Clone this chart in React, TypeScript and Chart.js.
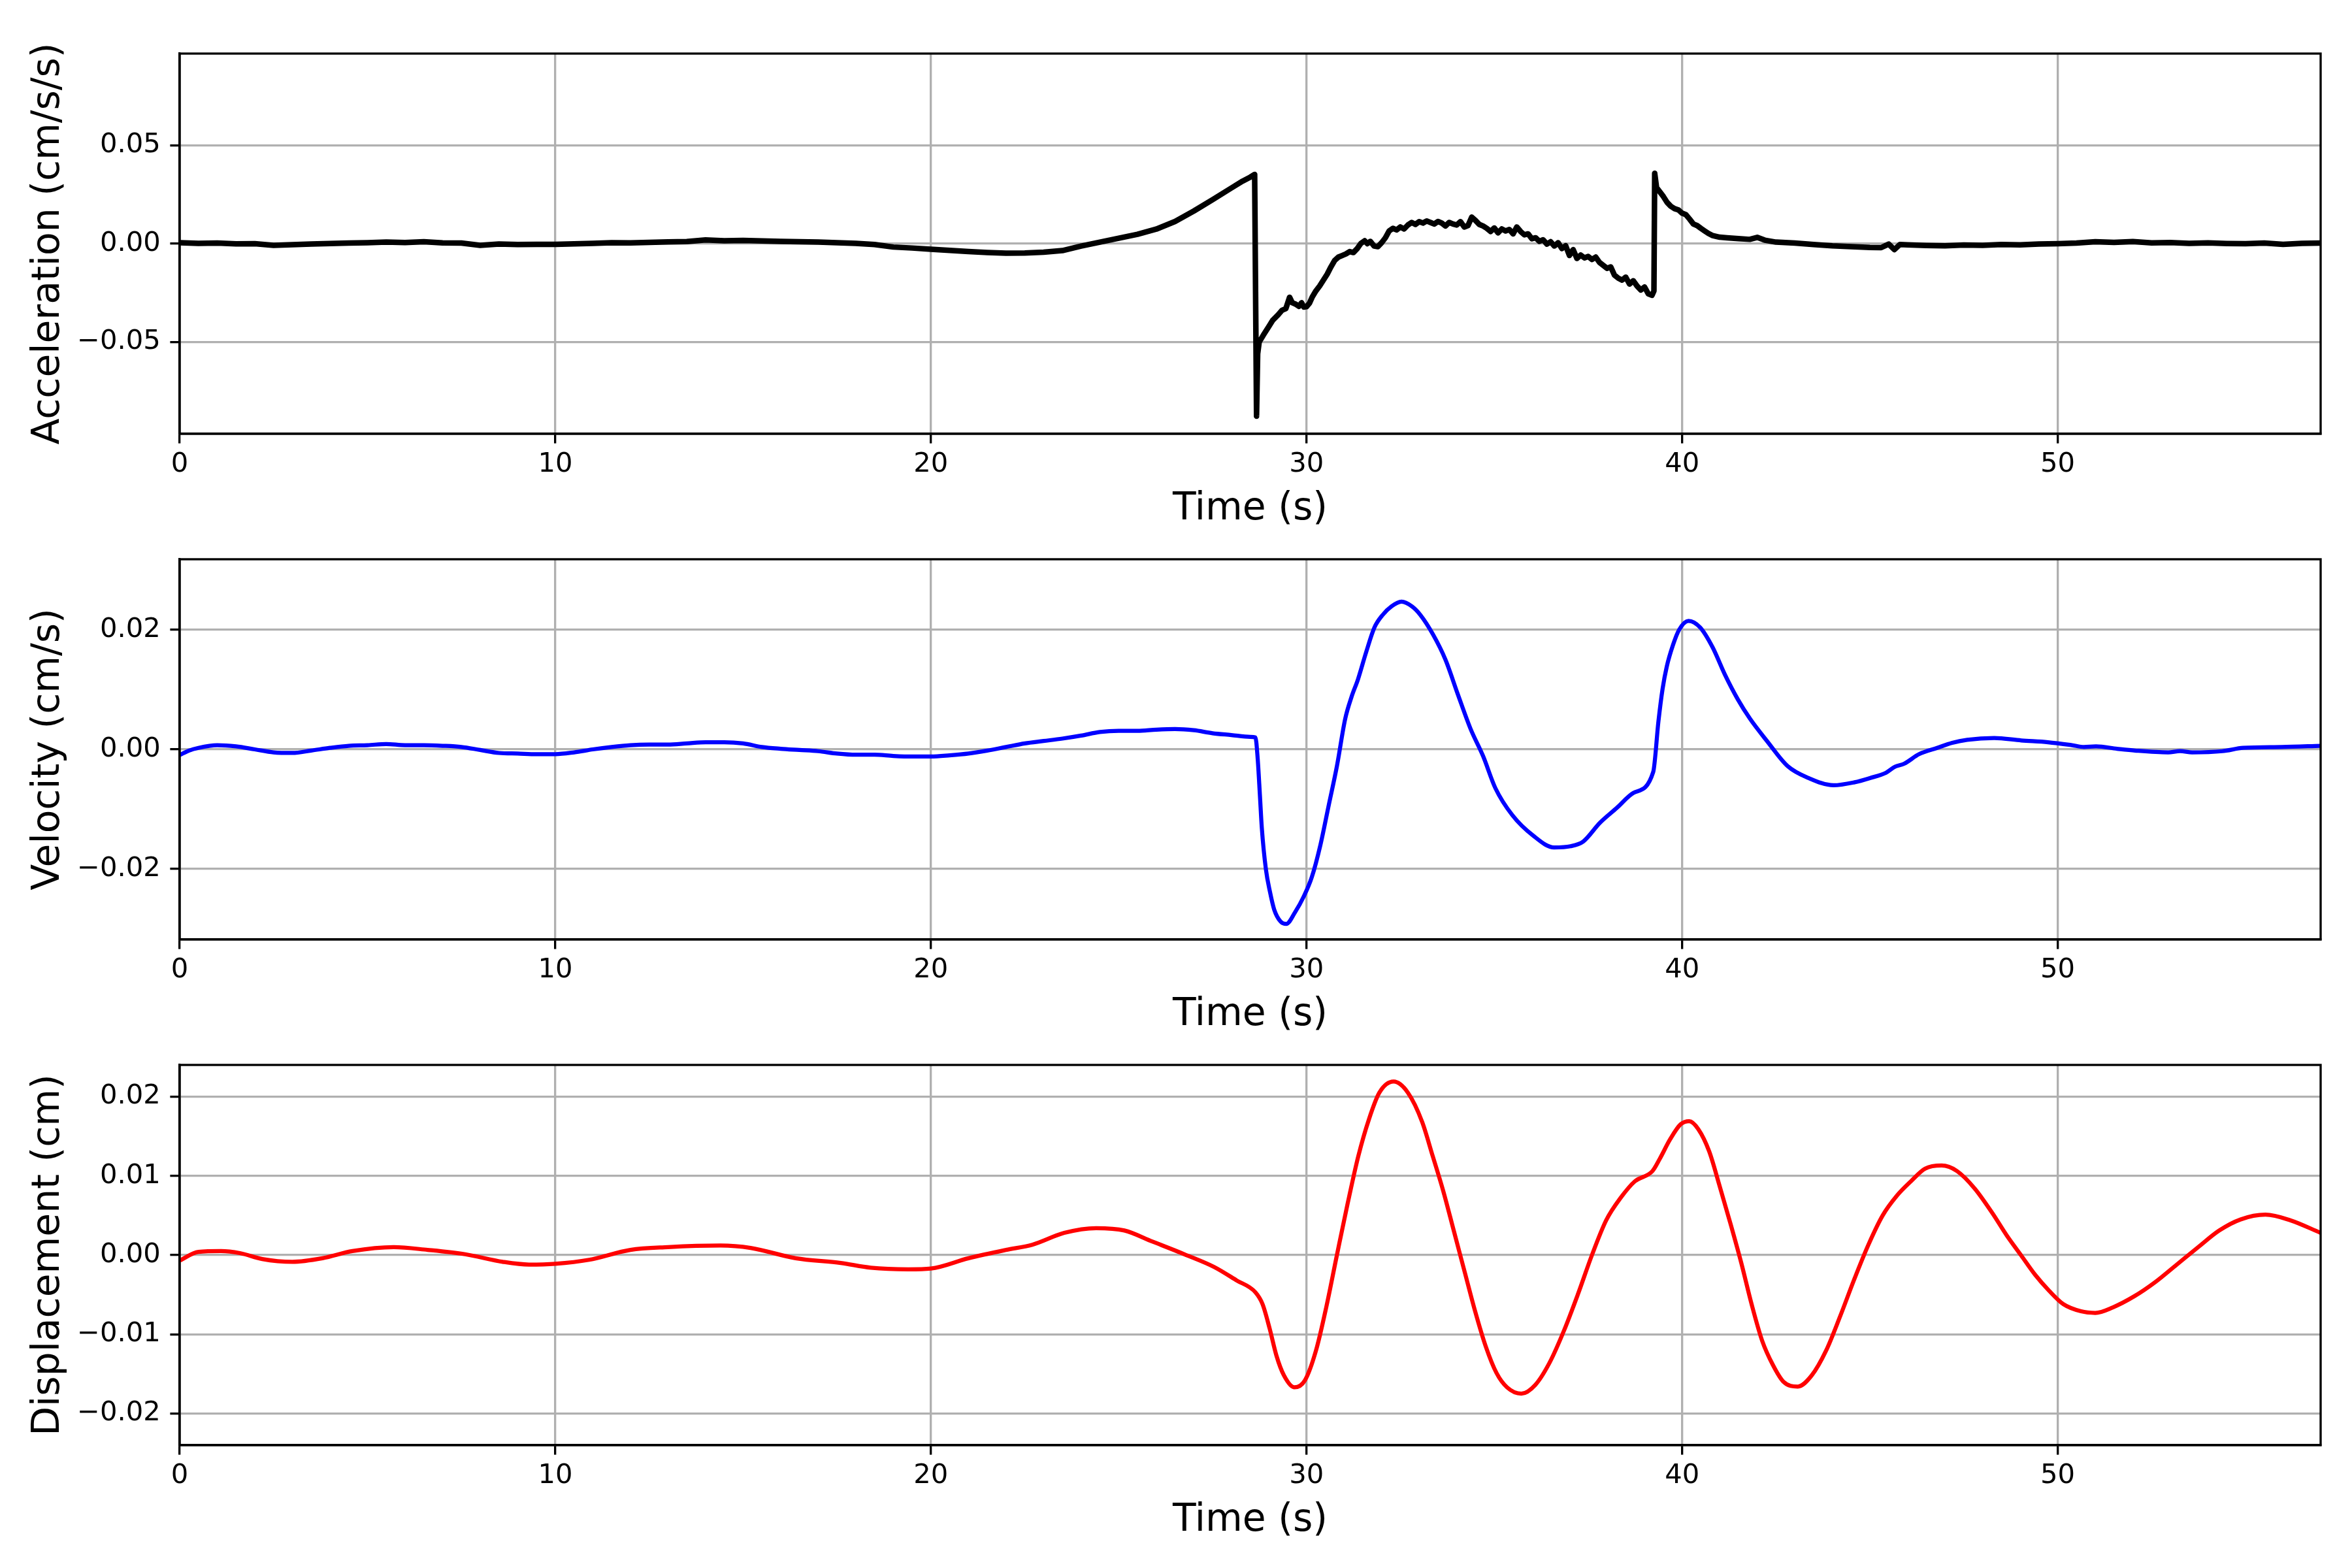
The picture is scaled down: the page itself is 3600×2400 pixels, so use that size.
import React, { useEffect, useRef } from "react";
import { Chart, registerables } from "chart.js";

Chart.register(...registerables);

const FONT = "'DejaVu Sans', sans-serif";
const GRID = "#b0b0b0";
const LW = 3.33;

// shared time axis
const timeTicks = [0, 10, 20, 30, 40, 50];
const timeMax = 57.0;

// acceleration record (cm/s/s)
const accTime = [
  0, 0.5, 1, 1.5, 2, 2.5, 3, 3.5, 4, 4.5,
  5, 5.5, 6, 6.5, 7, 7.5, 8, 8.5, 9, 9.5,
  10, 10.5, 11, 11.5, 12, 12.5, 13, 13.5, 14, 14.5,
  15, 15.5, 16, 16.5, 17, 17.5, 18, 18.5, 19, 19.5,
  20, 20.5, 21, 21.5, 22, 22.5, 23, 23.5, 24, 24.5,
  25, 25.5, 26, 26.5, 27, 27.5, 28, 28.3, 28.5, 28.62,
  28.67, 28.7, 28.74, 28.85, 29.0, 29.1, 29.25, 29.35, 29.45, 29.55,
  29.62, 29.7, 29.8, 29.87, 29.93, 30.0, 30.08, 30.15, 30.25, 30.35,
  30.45, 30.55, 30.65, 30.75, 30.85, 30.95, 31.05, 31.15, 31.25, 31.35,
  31.45, 31.55, 31.62, 31.7, 31.8, 31.9, 32.0, 32.1, 32.2, 32.3,
  32.4, 32.5, 32.6, 32.7, 32.8, 32.9, 33.0, 33.1, 33.2, 33.3,
  33.4, 33.5, 33.6, 33.7, 33.8, 33.9, 34.0, 34.1, 34.2, 34.3,
  34.4, 34.5, 34.6, 34.7, 34.8, 34.9, 35.0, 35.1, 35.2, 35.3,
  35.4, 35.5, 35.6, 35.7, 35.8, 35.9, 36.0, 36.1, 36.2, 36.3,
  36.4, 36.5, 36.6, 36.7, 36.8, 36.9, 37.0, 37.1, 37.2, 37.3,
  37.4, 37.5, 37.6, 37.7, 37.8, 37.9, 38.0, 38.1, 38.2, 38.3,
  38.4, 38.5, 38.6, 38.7, 38.8, 38.9, 39.0, 39.1, 39.2,
  39.25, 39.27, 39.32, 39.4, 39.5, 39.6, 39.7, 39.8, 39.9, 40.0,
  40.1, 40.2, 40.3, 40.4, 40.5, 40.6, 40.7, 40.8, 41.0, 41.2,
  41.5, 41.8, 42.0, 42.2, 42.5, 43.0, 43.5, 44.0, 44.5, 45.0,
  45.3, 45.5, 45.65, 45.8, 46.0, 46.5, 47.0, 47.5, 48.0, 48.5,
  49.0, 49.5, 50.0, 50.5, 51.0, 51.5, 52.0, 52.5, 53.0, 53.5,
  54.0, 54.5, 55.0, 55.5, 56.0, 56.5, 57.0,
];
const accValue = [
  0.0005, 0.0002, 0.0003, -0.0001, 0.0, -0.0008, -0.0005, -0.0002, 0.0001, 0.0003,
  0.0005, 0.0008, 0.0006, 0.001, 0.0004, 0.0003, -0.0008, -0.0002, -0.0004, -0.0003,
  -0.0003, -0.0001, 0.0002, 0.0005, 0.0004, 0.0007, 0.0009, 0.0011, 0.0019, 0.0015,
  0.0017, 0.0014, 0.0012, 0.001, 0.0008, 0.0005, 0.0002, -0.0004, -0.0017, -0.0022,
  -0.0028, -0.0034, -0.004, -0.0045, -0.0048, -0.0047, -0.0043, -0.0035, -0.0012, 0.0008,
  0.0028, 0.0048, 0.0074, 0.0113, 0.0166, 0.0224, 0.0283, 0.0318, 0.0338, 0.0352,
  -0.0876, -0.056, -0.05, -0.0465, -0.042, -0.0389, -0.036, -0.0338, -0.033, -0.0272,
  -0.03, -0.0306, -0.0318, -0.03, -0.0322, -0.032, -0.0302, -0.0272, -0.024, -0.0215,
  -0.0185, -0.0155, -0.0118, -0.0085, -0.0068, -0.006, -0.0052, -0.004, -0.0045, -0.0025,
  0.0002, 0.0015, 0.0, 0.0012, -0.0012, -0.0015, 0.0005, 0.003, 0.0065, 0.0078,
  0.007, 0.0085, 0.0075, 0.0095, 0.0108, 0.0098, 0.0112, 0.0105, 0.0115, 0.0108,
  0.01, 0.0113, 0.0105, 0.009, 0.0108, 0.01, 0.0095, 0.0112, 0.0085, 0.0092,
  0.0135, 0.0118, 0.0098, 0.009, 0.0078, 0.0062, 0.008, 0.0055, 0.0075, 0.0065,
  0.0072, 0.005, 0.0085, 0.0062, 0.0045, 0.005, 0.0025, 0.003, 0.0012, 0.002,
  -0.0002, 0.001, -0.0012, 0.0005, -0.0025, -0.001, -0.006, -0.003, -0.0075, -0.0058,
  -0.0072, -0.0065, -0.008, -0.0068, -0.0095, -0.011, -0.0125, -0.0118, -0.016, -0.0175,
  -0.0185, -0.017, -0.0205, -0.0188, -0.0215, -0.0235, -0.022, -0.0255, -0.0262,
  -0.024, 0.0358, 0.0285, 0.0265, 0.024, 0.021, 0.019, 0.0178, 0.0172, 0.0155,
  0.0148, 0.0125, 0.01, 0.0092, 0.0078, 0.0065, 0.0052, 0.0042, 0.0033, 0.003,
  0.0026, 0.0022, 0.0032, 0.0018, 0.0008, 0.0003, -0.0004, -0.0011, -0.0015, -0.0019,
  -0.002, -0.0002, -0.003, -0.0004, -0.0006, -0.0009, -0.0011, -0.0007, -0.0008, -0.0004,
  -0.0006, -0.0002, 0.0, 0.0003, 0.001, 0.0007, 0.0011, 0.0004, 0.0006, 0.0002,
  0.0004, 0.0001, 0.0, 0.0003, -0.0003, 0.0002, 0.0003,
];
const accTicks = [-0.05, 0, 0.05];
const accLimit = 0.0966;

// velocity record (cm/s)
const velTime = [
  0, 0.25, 0.5, 1, 1.5, 2, 2.5, 3, 3.5, 4,
  4.5, 5, 5.5, 6, 6.5, 7, 7.5, 8, 8.5, 9,
  9.5, 10, 10.5, 11, 11.5, 12, 12.5, 13, 13.5, 14,
  14.5, 15, 15.5, 16, 16.5, 17, 17.5, 18, 18.5, 19,
  19.5, 20, 20.5, 21, 21.5, 22, 22.5, 23, 23.5, 24,
  24.5, 25, 25.5, 26, 26.5, 27, 27.5, 28, 28.5, 28.64,
  28.7, 28.76, 28.81, 28.92, 29.03, 29.14, 29.31, 29.46, 29.7, 29.92,
  30.14, 30.37, 30.59, 30.81, 31.03, 31.2, 31.37, 31.59, 31.81, 32.03,
  32.26, 32.53, 32.81, 33.03, 33.37, 33.7, 34.03, 34.37, 34.7, 35.03,
  35.48, 36.03, 36.59, 37.03, 37.37, 37.81, 38.26, 38.7, 39.23, 39.37,
  39.48, 39.59, 39.76, 39.92, 40.17, 40.48, 40.81, 41.14, 41.48, 41.81,
  42.26, 42.81, 43.37, 44.03, 44.59, 45.0, 45.43, 45.67, 45.91, 46.31,
  46.79, 47.19, 47.59, 48.31, 49.03, 49.74, 50.38, 50.7, 51.02, 51.58,
  52.06, 52.94, 53.26, 53.58, 54.38, 54.94, 55.97, 57.0,
];
const velValue = [
  -0.00095, -0.0002, 0.00025, 0.0007, 0.0005, 0.0, -0.0005, -0.0006, -0.0002, 0.00025,
  0.0006, 0.0007, 0.0009, 0.0007, 0.0007, 0.0006, 0.0004, -0.0001, -0.0006, -0.0007,
  -0.0008, -0.0008, -0.0005, 0.0, 0.0004, 0.0007, 0.0008, 0.0008, 0.001, 0.0012,
  0.0012, 0.001, 0.0004, 0.0001, -0.0001, -0.0003, -0.0007, -0.0009, -0.0009, -0.0011,
  -0.0012, -0.0012, -0.001, -0.0007, -0.0002, 0.0004, 0.001, 0.0014, 0.0018, 0.0023,
  0.0029, 0.0031, 0.0031, 0.0033, 0.0034, 0.0032, 0.0027, 0.0024, 0.0021, 0.002,
  -0.0015, -0.0077, -0.0131, -0.0201, -0.0239, -0.0268, -0.0288, -0.0292, -0.0272, -0.0247,
  -0.0214, -0.016, -0.0094, -0.0028, 0.0051, 0.0088, 0.0117, 0.0163, 0.0204, 0.0225,
  0.0239, 0.0247, 0.0239, 0.0225, 0.0192, 0.015, 0.0092, 0.0034, -0.0011, -0.0065,
  -0.011, -0.0144, -0.0164, -0.0162, -0.0154, -0.0123, -0.0098, -0.0073, -0.0038, 0.0047,
  0.0101, 0.0138, 0.0175, 0.02, 0.0215, 0.0204, 0.0171, 0.0125, 0.0084, 0.0051,
  0.0014, -0.0028, -0.0048, -0.006, -0.0055, -0.0048, -0.0039, -0.0029, -0.0024, -0.0008,
  0.00025, 0.0011, 0.0016, 0.0019, 0.0015, 0.0012, 0.0007, 0.0004, 0.0005, 0.0001,
  -0.0002, -0.0005, -0.0003, -0.0005, -0.0003, 0.00025, 0.0004, 0.0006,
];
const velTicks = [-0.02, 0, 0.02];
const velLimit = 0.0318;

// displacement record (cm)
const dispTime = [
  0, 0.5, 1.1, 1.6, 2.2, 3.0, 3.8, 4.6, 5.7, 6.6,
  7.6, 8.6, 9.3, 10, 10.9, 12, 13, 14.4, 15.2, 16.4,
  17.6, 18.4, 19.4, 20, 21, 22, 22.7, 23.55, 24.4, 25.15,
  25.9, 26.75, 27.54, 28.14, 28.64, 28.83, 29.02, 29.2, 29.4, 29.68,
  29.96, 30.25, 30.53, 30.81, 31.1, 31.38, 31.66, 31.94, 32.32, 32.7,
  33.08, 33.36, 33.64, 33.92, 34.21, 34.49, 34.77, 35.06, 35.34, 35.72,
  36.09, 36.47, 36.85, 37.23, 37.6, 37.98, 38.36, 38.74, 39.21, 39.4,
  39.68, 39.96, 40.19, 40.43, 40.72, 41.0, 41.28, 41.57, 41.85, 42.13,
  42.42, 42.7, 43.08, 43.45, 43.83, 44.21, 44.58, 44.96, 45.34, 45.72,
  46.09, 46.47, 46.91, 47.32, 47.79, 48.26, 48.64, 49.02, 49.4, 49.77,
  50.15, 50.62, 51.0, 51.47, 52.04, 52.6, 53.17, 53.74, 54.3, 54.87,
  55.53, 56.19, 57.0,
];
const dispValue = [
  -0.0007, 0.0004, 0.0005, 0.00025, -0.0005, -0.00085, -0.0004, 0.0005, 0.001, 0.00065,
  0.0001, -0.00085, -0.0012, -0.0011, -0.0006, 0.00065, 0.001, 0.0012, 0.0009, -0.0004,
  -0.001, -0.0016, -0.0018, -0.0017, -0.0004, 0.00065, 0.0013, 0.0028, 0.0034, 0.0031,
  0.0017, 0.0001, -0.0015, -0.0032, -0.0047, -0.0062, -0.0093, -0.0127, -0.0152, -0.0167,
  -0.0158, -0.0121, -0.0065, 0.0, 0.0066, 0.0125, 0.0171, 0.0205, 0.0219, 0.0205,
  0.0168, 0.0125, 0.0081, 0.0031, -0.0021, -0.0071, -0.0115, -0.0149, -0.0167, -0.0175,
  -0.0164, -0.0136, -0.0096, -0.0049, 0.0, 0.0044, 0.0072, 0.0093, 0.0106, 0.0121,
  0.0146, 0.0165, 0.0169, 0.0159, 0.0131, 0.0087, 0.0041, -0.0009, -0.0062, -0.0108,
  -0.0139, -0.016, -0.0166, -0.0152, -0.0121, -0.0077, -0.0031, 0.0013, 0.005, 0.0075,
  0.0093, 0.0109, 0.0113, 0.0106, 0.0084, 0.0053, 0.0025, 0.0, -0.0025, -0.0045,
  -0.0062, -0.0071, -0.0073, -0.0066, -0.0052, -0.0034, -0.0012, 0.001, 0.0031, 0.0045,
  0.0051, 0.0044, 0.0028,
];
const dispTicks = [-0.02, -0.01, 0, 0.01, 0.02];
const dispLimit = 0.024;

// matplotlib style minus sign on tick labels
const fmtTick = (v: number) => {
  const s = Number(v).toFixed(2);
  return s.startsWith("-") ? "\u2212" + s.slice(1) : s;
};

// full black box around the axes (top and right spines too)
const framePlugin = {
  id: "frame",
  afterDatasetsDraw(chart: Chart) {
    const { ctx, chartArea: a } = chart;
    ctx.save();
    ctx.strokeStyle = "#000";
    ctx.lineWidth = LW;
    ctx.strokeRect(a.left, a.top, a.right - a.left, a.bottom - a.top);
    ctx.restore();
  },
};

interface PanelProps {
  top: number;
  time: number[];
  values: number[];
  color: string;
  lineWidth: number;
  smooth: boolean;
  title: string;
  ticks: number[];
  limit: number;
}

const Panel: React.FC<PanelProps> = ({ top, time, values, color, lineWidth, smooth, title, ticks, limit }) => {
  const canvasRef = useRef<HTMLCanvasElement>(null);

  useEffect(() => {
    if (!canvasRef.current) return;
    const n = Math.min(time.length, values.length);
    const points = time.slice(0, n).map((t, i) => ({ x: t, y: values[i] }));

    const chart = new Chart(canvasRef.current, {
      type: "line",
      data: {
        datasets: [
          {
            data: points,
            borderColor: color,
            borderWidth: lineWidth,
            pointRadius: 0,
            fill: false,
            tension: smooth ? 0.4 : 0,
            cubicInterpolationMode: smooth ? "monotone" : "default",
            borderJoinStyle: "round",
          },
        ],
      },
      options: {
        responsive: false,
        animation: false,
        devicePixelRatio: 1,
        events: [],
        parsing: false,
        layout: { padding: { top: 82, right: 48, bottom: 0, left: 0 } },
        plugins: { legend: { display: false }, tooltip: { enabled: false } },
        scales: {
          x: {
            type: "linear",
            min: 0,
            max: timeMax,
            afterFit: (s: any) => {
              s.height = 176;
            },
            afterBuildTicks: (s: any) => {
              s.ticks = timeTicks.map((value) => ({ value }));
            },
            grid: { color: GRID, lineWidth: LW, drawTicks: true, tickLength: 14.6, tickColor: "#000", tickWidth: LW },
            border: { display: true, color: "#000", width: LW },
            ticks: {
              color: "#000",
              font: { family: FONT, size: 41.7 },
              padding: 8,
              maxRotation: 0,
              autoSkip: false,
              callback: (v: any) => String(v),
            },
            title: {
              display: true,
              text: "Time (s)",
              color: "#000",
              font: { family: FONT, size: 58.3 },
              padding: { top: 0, bottom: 25 },
            },
          },
          y: {
            type: "linear",
            min: -limit,
            max: limit,
            afterFit: (s: any) => {
              s.width = 275;
            },
            afterBuildTicks: (s: any) => {
              s.ticks = ticks.map((value) => ({ value }));
            },
            grid: { color: GRID, lineWidth: LW, drawTicks: true, tickLength: 14.6, tickColor: "#000", tickWidth: LW },
            border: { display: true, color: "#000", width: LW },
            ticks: {
              color: "#000",
              font: { family: FONT, size: 41.7 },
              padding: 14.6,
              callback: (v: any) => fmtTick(Number(v)),
            },
            title: {
              display: true,
              text: title,
              color: "#000",
              font: { family: FONT, size: 58.3 },
              padding: { top: 40, bottom: 0 },
            },
          },
        },
      },
      plugins: [framePlugin],
    } as any);

    return () => chart.destroy();
    // eslint-disable-next-line react-hooks/exhaustive-deps
  }, []);

  return (
    <canvas
      ref={canvasRef}
      width={3600}
      height={840}
      style={{ position: "absolute", left: 0, top, width: 3600, height: 840 }}
    />
  );
};

const App: React.FC = () => (
  <div style={{ position: "absolute", left: 0, top: 0, width: 3600, height: 2400, background: "#fff" }}>
    <Panel top={0} time={accTime} values={accValue} color="#000000" lineWidth={8.5} smooth={false}
      title="Acceleration (cm/s/s)" ticks={accTicks} limit={accLimit} />
    <Panel top={774} time={velTime} values={velValue} color="#0000ff" lineWidth={6.25} smooth={true}
      title="Velocity (cm/s)" ticks={velTicks} limit={velLimit} />
    <Panel top={1548} time={dispTime} values={dispValue} color="#ff0000" lineWidth={6.25} smooth={true}
      title="Displacement (cm)" ticks={dispTicks} limit={dispLimit} />
  </div>
);

export default App;
